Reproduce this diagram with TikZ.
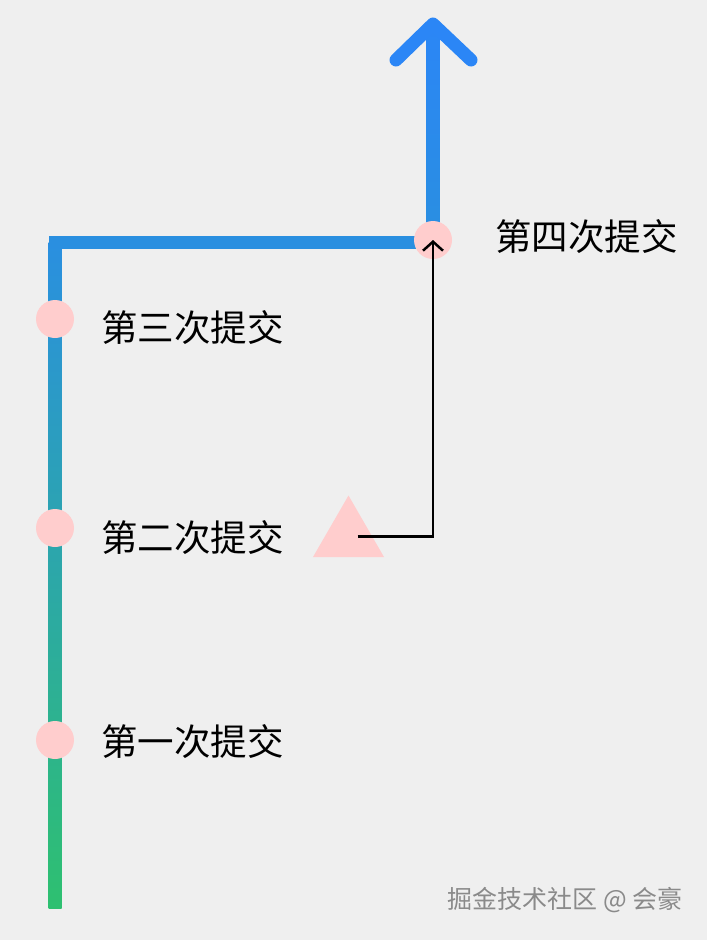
\documentclass[tikz,border=0pt]{standalone}
\usepackage{fontspec}
\newfontfamily\cjk{Noto Sans CJK SC}
\usetikzlibrary{arrows.meta,shapes.geometric}
\definecolor{bg}{HTML}{EFEFEF}
\definecolor{pinkc}{HTML}{FFCDCD}
\definecolor{topblue}{HTML}{2B86F6}
\definecolor{midblue}{HTML}{2A8FE0}
\definecolor{botgreen}{HTML}{2EC070}
\definecolor{wm}{HTML}{8A8A8A}
\begin{document}
\begin{tikzpicture}[x=1pt,y=-1pt,
  dot/.style={circle,fill=pinkc,minimum size=38pt,inner sep=0pt},
  lbl/.style={anchor=west,inner sep=0pt,font=\cjk\fontsize{36.5}{40}\selectfont,text=black},
  link/.style={line width=2.5pt,draw=black,-{Straight Barb[length=9pt,width=20pt,line width=2.5pt]}}
]
\fill[bg] (0,0) rectangle (707,940);
\useasboundingbox (0,0) rectangle (707,940);
% main branch line
\shade[top color=midblue,bottom color=botgreen] (48.5,242) rectangle (61.5,908);
\fill[midblue] (48.5,235.5) rectangle (439.5,248.5);
\shade[top color=topblue,bottom color=midblue] (426.5,24) rectangle (439.5,242);
\draw[topblue,line width=13pt,line cap=round,line join=round] (396,60) -- (433,24) -- (471,60);
% commits
\node[dot] (c3) at (55,319) {};
\node[dot] (c2) at (55,528) {};
\node[dot] (c1) at (55,740) {};
\node[dot] (c4) at (433,240) {};
\node[regular polygon,regular polygon sides=3,fill=pinkc,minimum size=82pt,inner sep=0pt] (tri) at (348.5,536.5) {};
\node[lbl] (l3) at (101,328) {第三次提交};
\node[lbl] (l2) at (101,538) {第二次提交};
\node[lbl] (l1) at (101,742) {第一次提交};
\node[lbl] (l4) at (495,237) {第四次提交};
\draw[link] ([xshift=9pt]tri.center) -| (c4.center);
\node[anchor=east,inner sep=0pt,font=\cjk\fontsize{25}{28}\selectfont,text=wm] (wmk) at (683,900) {掘金技术社区 @ 会豪};
\end{tikzpicture}
\end{document}
